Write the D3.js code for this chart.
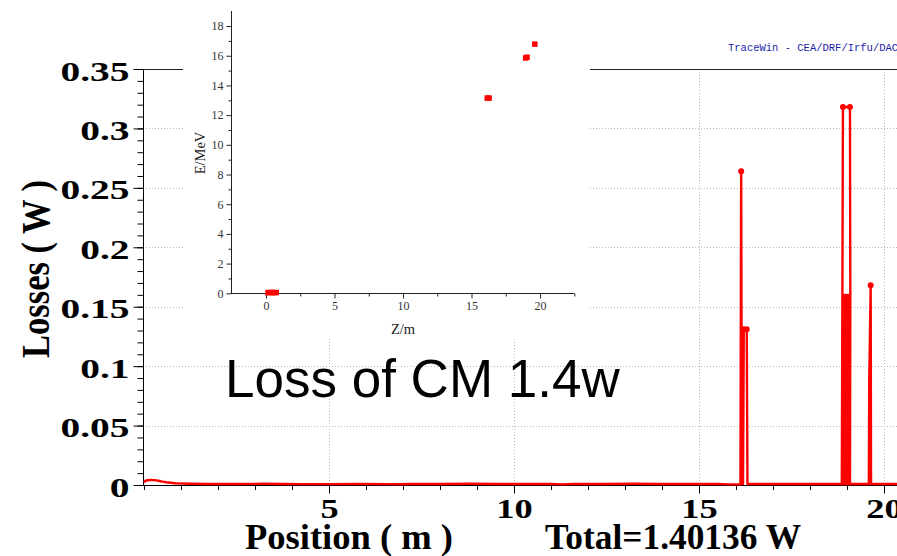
<!DOCTYPE html>
<html>
<head>
<meta charset="utf-8">
<script src="https://cdn.jsdelivr.net/npm/d3@7"></script>
<style>
body { margin: 0; background: #fff; }
svg { display: block; }
</style>
</head>
<body>
<div id="chart"></div>
<script>
var width = 897
var height = 556

// loss curve, points in the order they were recorded (position m, loss W)
const lossPos = [0.00, 0.04, 0.10, 0.18, 0.26, 0.34, 0.42, 0.50, 0.60, 0.72, 0.85, 1.00, 1.30, 1.70,
  2.10, 2.60, 3.20, 3.80, 4.30, 5.00, 5.80, 6.60, 6.95, 7.20, 8.00, 8.80, 9.60, 10.40, 11.00, 11.30,
  11.60, 12.40, 13.20, 14.00, 14.80, 15.50, 15.80, 16.12, 16.14, 16.16, 16.19, 16.21, 16.29, 16.30,
  16.31, 16.60, 17.20, 17.80, 18.40, 18.86, 18.89, 19.08, 19.09, 19.08, 19.07, 19.06, 19.05, 19.04,
  19.03, 19.02, 19.01, 19.00, 18.99, 18.98, 18.97, 18.96, 18.95, 18.94, 18.93, 18.92, 18.91, 18.90,
  18.89, 18.88, 18.88, 19.12, 19.40, 19.59, 19.60, 19.64, 19.65, 19.90, 20.40];
const lossVal = [0.0022, 0.0036, 0.0040, 0.0042, 0.0041, 0.0039, 0.0034, 0.0028, 0.0023, 0.0019, 0.0015, 0.0012, 0.0010, 0.0009,
  0.0008, 0.0009, 0.0010, 0.0009, 0.0007, 0.0007, 0.0008, 0.0007, 0.0006, 0.0009, 0.0009, 0.0010, 0.0009, 0.0009, 0.0008, 0.0005,
  0.0009, 0.0009, 0.0010, 0.0009, 0.0009, 0.0008, 0.0005, 0.0005, 0.264, 0.0008, 0.0008, 0.131, 0.131, 0.066,
  0.0008, 0.0008, 0.0009, 0.0009, 0.0008, 0.0008, 0.318, 0.318, 0.160, 0.002, 0.159, 0.002, 0.160, 0.002,
  0.158, 0.002, 0.160, 0.002, 0.159, 0.002, 0.160, 0.002, 0.158, 0.002, 0.160, 0.002, 0.159, 0.002,
  0.160, 0.002, 0.0008, 0.0008, 0.0008, 0.0008, 0.084, 0.168, 0.0008, 0.0008, 0.0008];

// markers on the peaks
const peakPos = [16.14, 16.21, 16.29, 18.89, 19.08, 19.64];
const peakVal = [0.264, 0.131, 0.131, 0.318, 0.318, 0.168];

// inset : energy of the lost particles
const insetZ = [0.15, 0.30, 0.45, 0.60, 0.75, 16.15, 16.28, 18.95, 19.05, 19.62];
const insetE = [0.05, 0.05, 0.05, 0.05, 0.05, 13.15, 13.15, 15.85, 15.90, 16.78];

const yTicks = [0, 0.05, 0.1, 0.15, 0.2, 0.25, 0.3, 0.35];
const yTickLabels = ["0", "0.05", "0.1", "0.15", "0.2", "0.25", "0.3", "0.35"];
const xTicks = [5, 10, 15, 20];
const xTickLabels = ["5", "10", "15", "20"];
const insetYTicks = [0, 2, 4, 6, 8, 10, 12, 14, 16, 18];
const insetXTicks = [0, 5, 10, 15, 20];

const svg = d3.select("#chart")
    .append("svg")
    .attr("width", width)
    .attr("height", height);

const x = d3.scaleLinear().domain([0, 20]).range([144, 884]);
const y = d3.scaleLinear().domain([0, 0.35]).range([485, 69]);

const serifBold = "'Liberation Serif', 'Times New Roman', serif";

// grid
const grid = svg.append("g")
    .attr("stroke", "#b8b8b8")
    .attr("stroke-width", 1)
    .attr("stroke-dasharray", "1,2");
grid.selectAll("line.h")
    .data(yTicks.slice(1, -1))
    .enter()
    .append("line")
    .attr("x1", 143).attr("x2", width)
    .attr("y1", d => Math.round(y(d)) + 0.5)
    .attr("y2", d => Math.round(y(d)) + 0.5);
grid.selectAll("line.v")
    .data(xTicks)
    .enter()
    .append("line")
    .attr("x1", d => Math.round(x(d)) + 0.5)
    .attr("x2", d => Math.round(x(d)) + 0.5)
    .attr("y1", 69).attr("y2", 485);

// top frame
svg.append("line")
    .attr("x1", 143).attr("x2", width)
    .attr("y1", 69.5).attr("y2", 69.5)
    .attr("stroke", "#222").attr("stroke-width", 1);

// y axis, minor then major ticks
svg.append("g")
    .attr("transform", "translate(143.5,0)")
    .call(d3.axisLeft(y).tickValues(d3.range(0, 36).map(i => i / 100)).tickSize(6).tickSizeOuter(0).tickFormat(""))
    .call(g => g.select(".domain").remove());
const yAxis = svg.append("g")
    .attr("transform", "translate(143.5,0)")
    .call(d3.axisLeft(y).tickValues(yTicks).tickSize(10).tickSizeOuter(0).tickFormat((d, i) => yTickLabels[i]))
    .call(g => g.select(".domain").remove());
yAxis.selectAll("text")
    .attr("font-family", serifBold)
    .attr("font-weight", "bold")
    .attr("font-size", 27)
    .attr("fill", "#000")
    .attr("dy", null)
    .attr("y", 11)
    .attr("x", -14 / 1.46)
    .attr("transform", "scale(1.46,1)");

// x axis
svg.append("g")
    .attr("transform", "translate(0,485.5)")
    .call(d3.axisBottom(x).tickValues(d3.range(0, 21)).tickSize(4.5).tickSizeOuter(0).tickFormat(""))
    .call(g => g.select(".domain").remove());
const xAxis = svg.append("g")
    .attr("transform", "translate(0,485.5)")
    .call(d3.axisBottom(x).tickValues(xTicks).tickSize(8).tickSizeOuter(0).tickFormat((d, i) => xTickLabels[i]))
    .call(g => g.select(".domain").remove());
xAxis.selectAll("text")
    .attr("font-family", serifBold)
    .attr("font-weight", "bold")
    .attr("font-size", 28)
    .attr("fill", "#000")
    .attr("dy", null)
    .attr("y", 33)
    .attr("transform", "scale(1.3,1)")
    .attr("x", 0);

// axis lines
svg.append("line")
    .attr("x1", 143.5).attr("x2", 143.5).attr("y1", 69).attr("y2", 486)
    .attr("stroke", "#000");
svg.append("line")
    .attr("x1", 143).attr("x2", width).attr("y1", 485.5).attr("y2", 485.5)
    .attr("stroke", "#000");

// the loss curve
const lossData = lossPos.map((p, i) => [p, lossVal[i]]);
svg.append("path")
    .datum(lossData)
    .attr("d", d3.line().x(d => x(d[0])).y(d => y(d[1])))
    .attr("fill", "none")
    .attr("stroke", "#ff0000")
    .attr("stroke-width", 2.4)
    .attr("stroke-linejoin", "round");
svg.append("g")
    .selectAll("circle")
    .data(peakPos)
    .enter()
    .append("circle")
    .attr("cx", d => x(d))
    .attr("cy", (d, i) => y(peakVal[i]))
    .attr("r", 3)
    .attr("fill", "#ff0000");

// titles
svg.append("text")
    .attr("transform", "translate(49,269) rotate(-90)")
    .attr("text-anchor", "middle")
    .attr("font-family", serifBold)
    .attr("font-weight", "bold")
    .attr("font-size", 40)
    .attr("textLength", 178)
    .attr("lengthAdjust", "spacingAndGlyphs")
    .text("Losses ( W )");
svg.append("text")
    .attr("x", 245).attr("y", 549)
    .attr("font-family", serifBold)
    .attr("font-weight", "bold")
    .attr("font-size", 35)
    .attr("textLength", 208)
    .attr("lengthAdjust", "spacingAndGlyphs")
    .text("Position ( m )");
svg.append("text")
    .attr("x", 545).attr("y", 549)
    .attr("font-family", serifBold)
    .attr("font-weight", "bold")
    .attr("font-size", 35)
    .attr("textLength", 256)
    .attr("lengthAdjust", "spacingAndGlyphs")
    .text("Total=1.40136 W");
svg.append("text")
    .attr("x", 728).attr("y", 51)
    .attr("font-family", "'Liberation Mono', 'DejaVu Sans Mono', monospace")
    .attr("font-size", 10.5)
    .attr("fill", "#1c1ca8")
    .text("TraceWin - CEA/DRF/Irfu/DACM");

// inset
svg.append("rect")
    .attr("x", 183).attr("y", 0)
    .attr("width", 407).attr("height", 337)
    .attr("fill", "#fff");

const xi = d3.scaleLinear().domain([-2.5, 22.5]).range([231.7, 574.3]);
const yi = d3.scaleLinear().domain([0, 19]).range([293.3, 11.2]);
const inset = svg.append("g");

inset.append("g")
    .attr("transform", "translate(231.5,0)")
    .call(d3.axisLeft(yi).tickValues(d3.range(1, 19, 2)).tickSize(3).tickSizeOuter(0).tickFormat(""))
    .call(g => g.select(".domain").remove());
const yiAxis = inset.append("g")
    .attr("transform", "translate(231.5,0)")
    .call(d3.axisLeft(yi).tickValues(insetYTicks).tickSize(5).tickSizeOuter(0))
    .call(g => g.select(".domain").remove());
inset.append("g")
    .attr("transform", "translate(0,293.5)")
    .call(d3.axisBottom(xi).tickValues([2.5, 7.5, 12.5, 17.5, 22.5]).tickSize(3).tickSizeOuter(0).tickFormat(""))
    .call(g => g.select(".domain").remove());
const xiAxis = inset.append("g")
    .attr("transform", "translate(0,293.5)")
    .call(d3.axisBottom(xi).tickValues(insetXTicks).tickSize(5).tickSizeOuter(0))
    .call(g => g.select(".domain").remove());
inset.selectAll("text")
    .attr("font-family", "'Liberation Serif', 'Times New Roman', serif")
    .attr("font-size", 12)
    .attr("fill", "#333");
yiAxis.selectAll("text").attr("x", -8);
xiAxis.selectAll("text").attr("y", 8);
inset.selectAll(".tick line").attr("stroke", "#222");

inset.append("line")
    .attr("x1", 231.5).attr("x2", 231.5).attr("y1", 11).attr("y2", 294)
    .attr("stroke", "#222");
inset.append("line")
    .attr("x1", 231).attr("x2", 574.5).attr("y1", 293.5).attr("y2", 293.5)
    .attr("stroke", "#222");

inset.selectAll("rect.pt")
    .data(insetZ)
    .enter()
    .append("rect")
    .attr("x", d => xi(d) - 2.75)
    .attr("y", (d, i) => yi(insetE[i]) - 2.75)
    .attr("width", 5.5)
    .attr("height", 5.5)
    .attr("fill", "#ff0000");

inset.append("text")
    .attr("transform", "translate(205,153) rotate(-90)")
    .attr("text-anchor", "middle")
    .attr("font-family", "'Liberation Serif', 'Times New Roman', serif")
    .attr("font-size", 14.5)
    .attr("fill", "#222")
    .text("E/MeV");
inset.append("text")
    .attr("x", 403).attr("y", 334)
    .attr("text-anchor", "middle")
    .attr("font-family", "'Liberation Serif', 'Times New Roman', serif")
    .attr("font-size", 14.5)
    .attr("fill", "#222")
    .text("Z/m");

// annotation
svg.append("text")
    .attr("x", 225).attr("y", 397)
    .attr("font-family", "'Liberation Sans', Arial, sans-serif")
    .attr("font-size", 53)
    .attr("fill", "#000")
    .text("Loss of CM 1.4w");
</script>
</body>
</html>
